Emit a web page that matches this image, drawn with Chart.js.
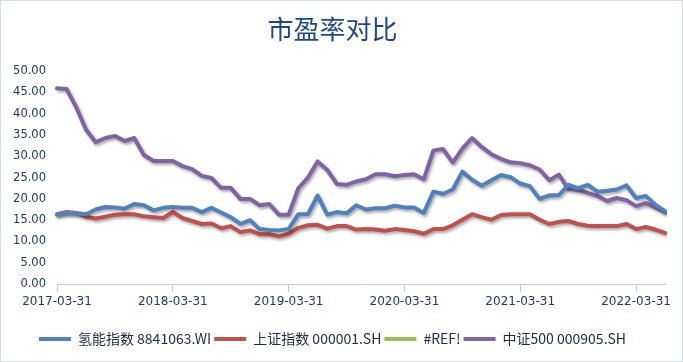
<!DOCTYPE html>
<html>
<head>
<meta charset="utf-8">
<script src="https://cdn.jsdelivr.net/npm/chart.js@4/dist/chart.umd.min.js"></script>
<style>
html,body{margin:0;padding:0;background:#fff;}
#wrap{width:683px;height:362px;position:relative;}
</style>
</head>
<body>
<div id="wrap"><canvas id="c" width="683" height="362"></canvas></div>
<script>
const chartTitle = "市盈率对比";
const dates = [
"2017-03-31","2017-04-30","2017-05-31","2017-06-30","2017-07-31","2017-08-31","2017-09-30","2017-10-31","2017-11-30","2017-12-31",
"2018-01-31","2018-02-28","2018-03-31","2018-04-30","2018-05-31","2018-06-30","2018-07-31","2018-08-31","2018-09-30","2018-10-31","2018-11-30","2018-12-31",
"2019-01-31","2019-02-28","2019-03-31","2019-04-30","2019-05-31","2019-06-30","2019-07-31","2019-08-31","2019-09-30","2019-10-31","2019-11-30","2019-12-31",
"2020-01-31","2020-02-29","2020-03-31","2020-04-30","2020-05-31","2020-06-30","2020-07-31","2020-08-31","2020-09-30","2020-10-31","2020-11-30","2020-12-31",
"2021-01-31","2021-02-28","2021-03-31","2021-04-30","2021-05-31","2021-06-30","2021-07-31","2021-08-31","2021-09-30","2021-10-31","2021-11-30","2021-12-31",
"2022-01-31","2022-02-28","2022-03-31","2022-04-30","2022-05-31","2022-06-30"
];
const seriesNames = ["氢能指数 8841063.WI","上证指数 000001.SH","#REF!","中证500 000905.SH"];
const hydrogen = [16.3,16.7,16.6,16.4,17.5,18.1,18.0,17.7,18.8,18.5,17.3,17.9,18.1,17.9,17.9,16.9,17.9,16.8,15.7,14.1,15.0,12.9,12.7,12.6,12.9,16.4,16.4,20.8,16.3,16.9,16.6,18.5,17.5,17.8,17.8,18.4,18.0,18.0,16.7,21.7,21.2,22.2,26.4,24.5,23.1,24.4,25.6,25.1,23.6,23.0,20.0,20.8,20.9,23.3,22.5,23.3,21.7,21.9,22.2,23.2,20.2,20.7,18.6,17.1];
const shanghai = [16.4,16.9,16.7,15.8,15.4,15.8,16.3,16.4,16.4,15.9,15.7,15.5,16.9,15.5,14.8,14.1,14.2,13.1,13.6,12.2,12.6,11.7,11.7,11.2,11.8,13.2,13.8,13.9,13.0,13.6,13.6,12.8,12.9,12.8,12.5,12.9,12.7,12.4,11.8,12.9,12.9,13.8,15.1,16.4,15.7,15.1,16.2,16.4,16.4,16.4,15.1,14.1,14.6,14.8,14.1,13.7,13.6,13.6,13.6,14.1,12.9,13.4,12.8,12.0];
const refErr = [];
const csi500 = [46.0,45.8,41.5,36.3,33.3,34.3,34.8,33.6,34.3,30.3,28.9,28.9,28.9,27.7,27.0,25.4,24.9,22.6,22.6,20.0,20.0,18.5,18.8,16.3,16.3,22.5,25.0,28.8,26.8,23.5,23.3,24.1,24.6,25.8,25.8,25.3,25.6,25.8,24.6,31.4,31.7,28.5,31.8,34.3,32.2,30.5,29.4,28.6,28.4,27.9,26.9,24.4,25.7,22.3,22.1,21.4,20.7,19.5,20.2,19.7,18.3,19.0,18.0,16.9];
const yTicks = {min:0, max:50, step:5};
const colors = ["#4F81BD","#C0504D","#9BBB59","#8064A2"];

const shadowPlugin = {
  id:'shadow',
  beforeDatasetDraw(chart){
    const ctx = chart.ctx; ctx.save();
    ctx.shadowColor = 'rgba(0,0,0,0.35)';
    ctx.shadowBlur = 3; ctx.shadowOffsetX = 1.5; ctx.shadowOffsetY = 2;
  },
  afterDatasetDraw(chart){ chart.ctx.restore(); }
};
const framePlugin = {
  id:'frame',
  afterDraw(chart){
    const ctx = chart.ctx; ctx.save();
    ctx.strokeStyle = '#D3DDE6'; ctx.lineWidth = 1;
    ctx.strokeRect(0.5,0.5,chart.width-1,chart.height-1);
    ctx.restore();
  }
};

const series = [hydrogen, shanghai, refErr, csi500];
new Chart(document.getElementById('c'), {
  type:'line',
  data:{
    labels: dates,
    datasets: series.map((d,i)=>({
      label: seriesNames[i], data: d,
      borderColor: colors[i], backgroundColor: colors[i],
      borderWidth: 4, pointRadius: 0, tension: 0, fill: false,
      borderJoinStyle:'round', borderCapStyle:'round'
    }))
  },
  options:{
    responsive:false, animation:false,
    layout:{padding:{left:0,right:18,top:0,bottom:6}},
    plugins:{
      tooltip:{enabled:false},
      title:{display:true, text: chartTitle, color:'#1F497D',
        font:{family:'"Noto Sans CJK SC"', size:26, weight:'normal'},
        padding:{top:14,bottom:26}},
      legend:{position:'bottom',
        labels:{
          font:{family:'"Noto Sans CJK SC"', size:14},
          color:'#1B2B45', boxWidth:32, boxHeight:4, padding:3,
          generateLabels(chart){
            const items = Chart.defaults.plugins.legend.labels.generateLabels(chart);
            return items.map(it=>Object.assign(it,{fillStyle: colors[it.datasetIndex], lineWidth:0, strokeStyle:'rgba(0,0,0,0)'}));
          }
        }}
    },
    scales:{
      x:{
        type:'category',
        grid:{display:true, drawOnChartArea:false, drawTicks:true, tickLength:8, color:'#BFCBD9'},
        border:{display:true, color:'#BFCBD9', width:1},
        ticks:{autoSkip:false, maxRotation:0, minRotation:0, padding:3, color:'#1F3864',
          font:{family:'"DejaVu Sans"', size:12},
          callback(v,i){ return i % 12 === 0 ? dates[i] : null; }},
        afterFit(s){ s.height = 45; }
      },
      y:{
        min:yTicks.min, max:yTicks.max,
        grid:{display:false, drawTicks:false},
        border:{display:false},
        ticks:{stepSize:yTicks.step, padding:11, color:'#1F3864',
          font:{family:'"DejaVu Sans"', size:11.5},
          callback(v){ return Number(v).toFixed(2); }},
        afterFit(s){ s.width = 57; }
      }
    }
  },
  plugins:[shadowPlugin, framePlugin]
});
</script>
</body>
</html>
